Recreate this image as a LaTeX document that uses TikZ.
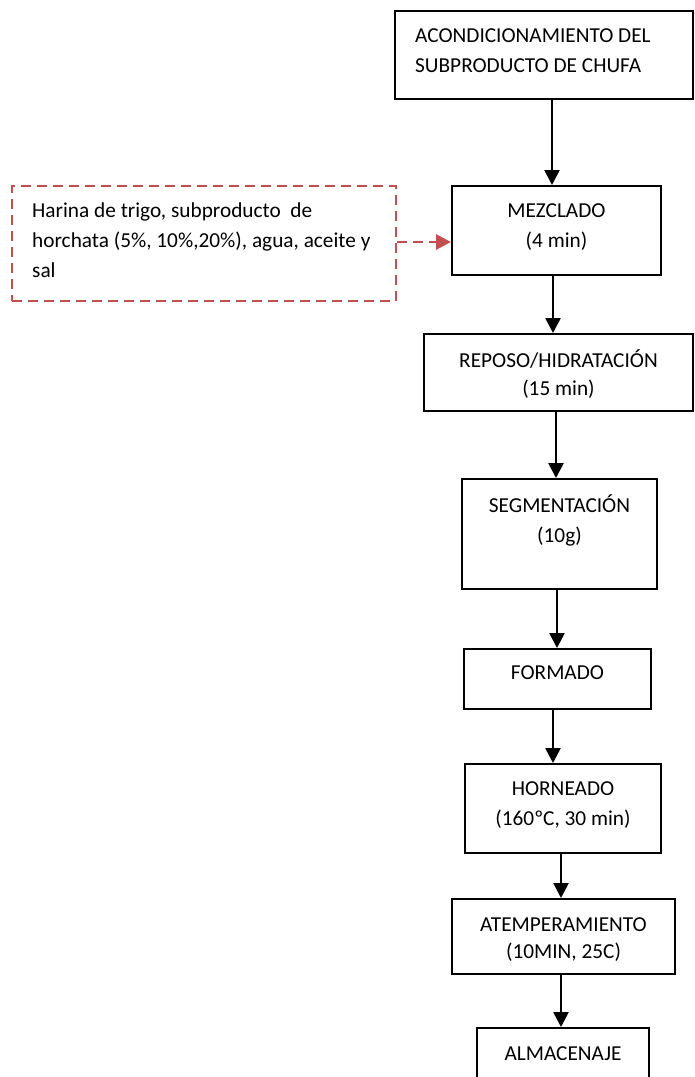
\documentclass[tikz,border=0pt]{standalone}
\usepackage{fontspec}
\setmainfont{Carlito}
\usetikzlibrary{arrows.meta}
\definecolor{dred}{HTML}{C0504D}
\tikzset{
  stepbox/.style={draw=black, line width=2pt, minimum width=#1, inner sep=0pt},
  txt/.style={inner sep=0pt, anchor=base, font=\fontsize{21.3pt}{25pt}\selectfont},
  flow/.style={line width=2.6pt, -{Triangle[width=15pt,length=15pt]}},
  inbox/.style={draw=dred, line width=2.8pt, dash pattern=on 10pt off 6pt, inner sep=0pt},
  inflow/.style={draw=dred, line width=2.8pt, dash pattern=on 10pt off 6pt, -{Triangle[width=15pt,length=15pt,fill=dred]}, color=dred},
}
\begin{document}
\begin{tikzpicture}[x=1pt,y=-1pt]
\clip (0,0) rectangle (694,1077);
\fill[white] (0,0) rectangle (694,1077);
% boxes
\node[stepbox=298pt, minimum height=88pt] (b1) at (544,55) {};
\node[stepbox=209pt, minimum height=89pt] (b2) at (556.5,230.5) {};
\node[inbox, minimum width=384pt, minimum height=115pt] (din) at (204,243.5) {};
\node[stepbox=269pt, minimum height=77pt] (b3) at (558.5,372.5) {};
\node[stepbox=195pt, minimum height=110pt] (b4) at (559.5,534) {};
\node[stepbox=187pt, minimum height=60pt] (b5) at (557.5,679) {};
\node[stepbox=196pt, minimum height=89pt] (b6) at (563,808.5) {};
\node[stepbox=223pt, minimum height=75pt] (b7) at (563.5,936.5) {};
\node[stepbox=172pt, minimum height=62pt] (b8) at (563,1059) {};
% texts
\node[txt, anchor=base west] (t1a) at (415,42) {ACONDICIONAMIENTO DEL};
\node[txt, anchor=base west] (t1b) at (415,72) {SUBPRODUCTO DE CHUFA};
\node[txt] (t2a) at (556.5,217) {MEZCLADO};
\node[txt] (t2b) at (556.5,247) {(4 min)};
\node[txt, anchor=base west] (tia) at (32,217) {Harina de trigo, subproducto\ \ de};
\node[txt, anchor=base west] (tib) at (32,247) {horchata (5\%, 10\%,20\%), agua, aceite y};
\node[txt, anchor=base west] (tic) at (32,277) {sal};
\node[txt] (t3a) at (558.5,367) {REPOSO/HIDRATACIÓN};
\node[txt] (t3b) at (558.5,395) {(15 min)};
\node[txt] (t4a) at (559.5,512) {SEGMENTACIÓN};
\node[txt] (t4b) at (559.5,542) {(10g)};
\node[txt] (t5a) at (557.5,679) {FORMADO};
\node[txt] (t6a) at (563,795) {HORNEADO};
\node[txt] (t6b) at (563,825) {(160ºC, 30 min)};
\node[txt] (t7a) at (563.5,931) {ATEMPERAMIENTO};
\node[txt] (t7b) at (563.5,958) {(10MIN, 25C)};
\node[txt] (t8a) at (563,1060) {ALMACENAJE};
% connectors
\draw[flow] (b1.south -| 552,0) -- (b2.north -| 552,0);
\draw[flow] (b2.south -| 553,0) -- (b3.north -| 553,0);
\draw[flow] (b3.south -| 556,0) -- (b4.north -| 556,0);
\draw[flow] (b4.south -| 557,0) -- (b5.north -| 557,0);
\draw[flow] (b5.south -| 553,0) -- (b6.north -| 553,0);
\draw[flow] (b6.south -| 561,0) -- (b7.north -| 561,0);
\draw[flow] (b7.south -| 561,0) -- (b8.north -| 561,0);
\draw[inflow] (din.east |- 0,242) -- (b2.west |- 0,242);
\end{tikzpicture}
\end{document}
